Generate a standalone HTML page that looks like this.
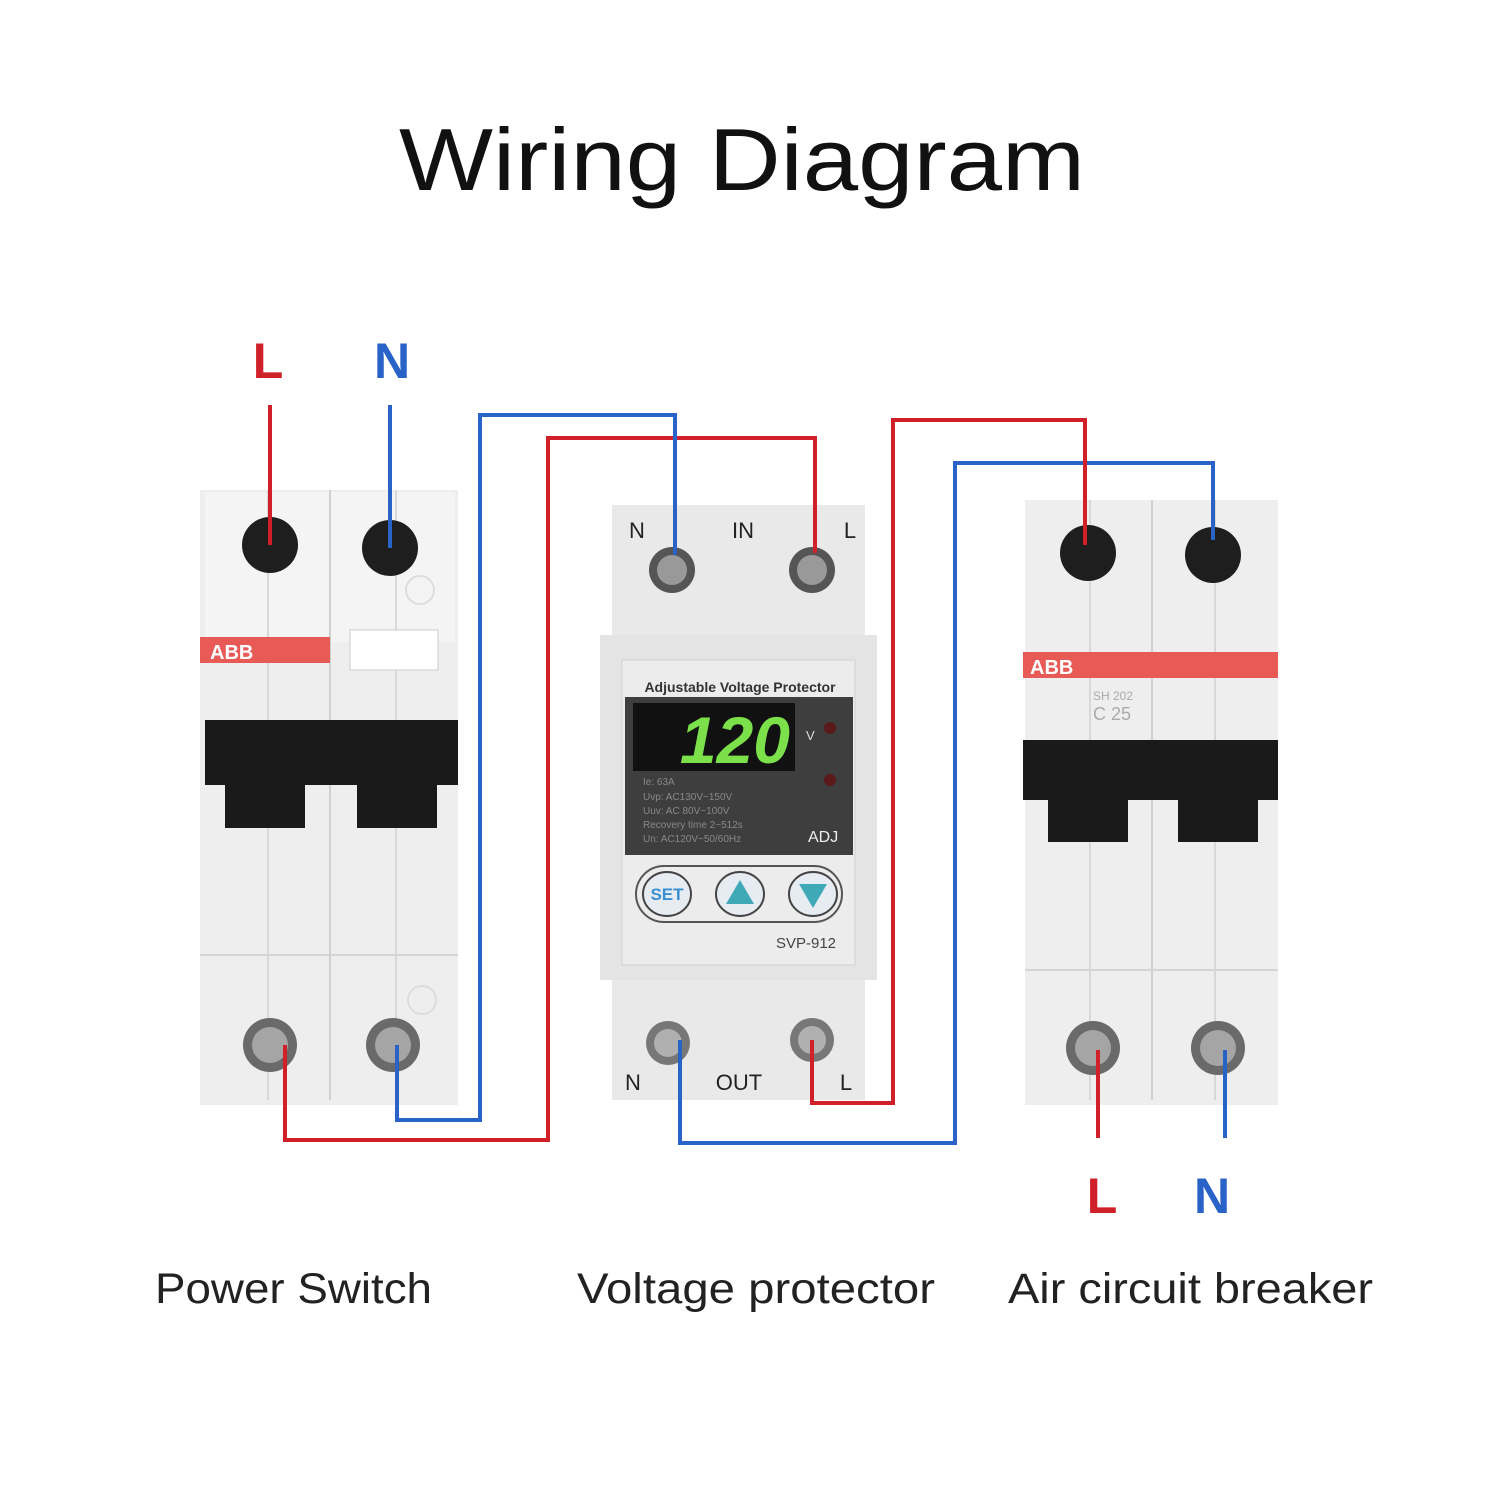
<!DOCTYPE html>
<html><head><meta charset="utf-8"><style>
html,body{margin:0;padding:0;background:#fff}
svg{display:block}
text{font-family:"Liberation Sans",sans-serif}
</style></head><body>
<svg width="1500" height="1500" viewBox="0 0 1500 1500" xmlns="http://www.w3.org/2000/svg">
<rect width="1500" height="1500" fill="#fff"/>
<text x="742" y="190" text-anchor="middle" font-size="88" fill="#111" textLength="686" lengthAdjust="spacingAndGlyphs">Wiring Diagram</text>

<!-- LEFT BREAKER -->
<g>
<rect x="200" y="490" width="258" height="615" fill="#eeeeee"/>
<rect x="205" y="492" width="250" height="150" fill="#f4f4f4"/>
<line x1="268" y1="490" x2="268" y2="1100" stroke="#d8d8d8" stroke-width="2"/>
<line x1="330" y1="490" x2="330" y2="1100" stroke="#d0d0d0" stroke-width="2"/>
<line x1="396" y1="490" x2="396" y2="1100" stroke="#d8d8d8" stroke-width="2"/>
<line x1="200" y1="955" x2="458" y2="955" stroke="#d4d4d4" stroke-width="2"/>
<rect x="200" y="637" width="130" height="26" fill="#e85a55"/>
<text x="210" y="659" font-size="20" font-weight="bold" fill="#fff">ABB</text>
<rect x="350" y="630" width="88" height="40" fill="#fff" stroke="#ccc"/>
<rect x="205" y="720" width="253" height="65" fill="#1a1a1a"/>
<rect x="225" y="784" width="80" height="44" fill="#1a1a1a"/>
<rect x="357" y="784" width="80" height="44" fill="#1a1a1a"/>
<circle cx="270" cy="545" r="28" fill="#1e1e1e"/>
<circle cx="390" cy="548" r="28" fill="#1e1e1e"/>
<circle cx="270" cy="1045" r="27" fill="#6a6a6a"/><circle cx="270" cy="1045" r="18" fill="#a5a5a5"/>
<circle cx="393" cy="1045" r="27" fill="#6a6a6a"/><circle cx="393" cy="1045" r="18" fill="#a5a5a5"/>
<circle cx="420" cy="590" r="14" fill="none" stroke="#ddd" stroke-width="2"/>
<circle cx="422" cy="1000" r="14" fill="none" stroke="#ddd" stroke-width="2"/>
</g>

<!-- DEVICE -->
<g>
<rect x="612" y="505" width="253" height="595" fill="#e9e9e9"/>
<rect x="600" y="635" width="277" height="345" fill="#e4e4e4"/>
<rect x="622" y="660" width="233" height="305" fill="#ececec" stroke="#d0d0d0"/>
<text x="740" y="692" text-anchor="middle" font-size="14" font-weight="bold" fill="#333">Adjustable Voltage Protector</text>
<rect x="625" y="697" width="228" height="158" fill="#3e3e3e"/>
<rect x="633" y="703" width="162" height="68" fill="#111"/>
<text x="790" y="763" text-anchor="end" font-size="66" font-weight="bold" fill="#7be04a" font-style="italic">120</text>
<text x="806" y="740" font-size="13" fill="#ddd">V</text>
<circle cx="830" cy="728" r="6" fill="#5a1a1a"/>
<circle cx="830" cy="780" r="6" fill="#5a1a1a"/>
<text x="643" y="785" font-size="10" fill="#888">Ie:      63A</text>
<text x="643" y="800" font-size="10" fill="#888">Uvp:   AC130V~150V</text>
<text x="643" y="814" font-size="10" fill="#888">Uuv:   AC  80V~100V</text>
<text x="643" y="828" font-size="10" fill="#888">Recovery time 2~512s</text>
<text x="643" y="842" font-size="10" fill="#888">Un: AC120V~50/60Hz</text>
<text x="808" y="842" font-size="16" fill="#eee">ADJ</text>
<rect x="636" y="866" width="206" height="56" rx="28" fill="none" stroke="#555" stroke-width="2"/>
<ellipse cx="667" cy="894" rx="24" ry="22" fill="#e6ecf2" stroke="#444" stroke-width="2"/>
<text x="667" y="900" text-anchor="middle" font-size="17" font-weight="bold" fill="#3a8fd0">SET</text>
<ellipse cx="740" cy="894" rx="24" ry="22" fill="#e6ecf2" stroke="#444" stroke-width="2"/>
<polygon points="740,880 754,904 726,904" fill="#3fa9b8"/>
<ellipse cx="813" cy="894" rx="24" ry="22" fill="#e6ecf2" stroke="#444" stroke-width="2"/>
<polygon points="799,884 827,884 813,908" fill="#3fa9b8"/>
<text x="806" y="948" text-anchor="middle" font-size="15" fill="#444">SVP-912</text>
<text x="637" y="538" text-anchor="middle" font-size="22" fill="#222">N</text>
<text x="743" y="538" text-anchor="middle" font-size="22" fill="#222">IN</text>
<text x="850" y="538" text-anchor="middle" font-size="22" fill="#222">L</text>
<circle cx="672" cy="570" r="23" fill="#555"/><circle cx="672" cy="570" r="15" fill="#999"/>
<circle cx="812" cy="570" r="23" fill="#555"/><circle cx="812" cy="570" r="15" fill="#999"/>
<circle cx="668" cy="1043" r="22" fill="#777"/><circle cx="668" cy="1043" r="14" fill="#b0b0b0"/>
<circle cx="812" cy="1040" r="22" fill="#777"/><circle cx="812" cy="1040" r="14" fill="#b0b0b0"/>
<text x="633" y="1090" text-anchor="middle" font-size="22" fill="#222">N</text>
<text x="739" y="1090" text-anchor="middle" font-size="22" fill="#222">OUT</text>
<text x="846" y="1090" text-anchor="middle" font-size="22" fill="#222">L</text>
</g>

<!-- RIGHT BREAKER -->
<g>
<rect x="1025" y="500" width="253" height="605" fill="#eeeeee"/>
<line x1="1090" y1="500" x2="1090" y2="1100" stroke="#d8d8d8" stroke-width="2"/>
<line x1="1152" y1="500" x2="1152" y2="1100" stroke="#d0d0d0" stroke-width="2"/>
<line x1="1215" y1="500" x2="1215" y2="1100" stroke="#d8d8d8" stroke-width="2"/>
<line x1="1025" y1="970" x2="1278" y2="970" stroke="#d4d4d4" stroke-width="2"/>
<rect x="1023" y="652" width="255" height="26" fill="#e85a55"/>
<text x="1030" y="674" font-size="20" font-weight="bold" fill="#fff">ABB</text>
<text x="1093" y="700" font-size="12" fill="#aaa">SH 202</text>
<text x="1093" y="720" font-size="18" fill="#aaa">C 25</text>
<rect x="1023" y="740" width="255" height="60" fill="#1a1a1a"/>
<rect x="1048" y="798" width="80" height="44" fill="#1a1a1a"/>
<rect x="1178" y="798" width="80" height="44" fill="#1a1a1a"/>
<circle cx="1088" cy="553" r="28" fill="#1e1e1e"/>
<circle cx="1213" cy="555" r="28" fill="#1e1e1e"/>
<circle cx="1093" cy="1048" r="27" fill="#6a6a6a"/><circle cx="1093" cy="1048" r="18" fill="#a5a5a5"/>
<circle cx="1218" cy="1048" r="27" fill="#6a6a6a"/><circle cx="1218" cy="1048" r="18" fill="#a5a5a5"/>
</g>

<!-- WIRES -->
<g fill="none" stroke-width="4" stroke-linejoin="miter">
<polyline points="270,405 270,545" stroke="#d0202a"/>
<polyline points="390,405 390,548" stroke="#2a63c8"/>
<polyline points="285,1045 285,1140 548,1140 548,438 815,438 815,553" stroke="#d0202a"/>
<polyline points="397,1045 397,1120 480,1120 480,415 675,415 675,555" stroke="#2a63c8"/>
<polyline points="680,1040 680,1143 955,1143 955,463 1213,463 1213,540" stroke="#2a63c8"/>
<polyline points="812,1040 812,1103 893,1103 893,420 1085,420 1085,545" stroke="#d0202a"/>
<polyline points="1098,1050 1098,1138" stroke="#d0202a"/>
<polyline points="1225,1050 1225,1138" stroke="#2a63c8"/>
</g>

<text x="268" y="378" text-anchor="middle" font-size="50" font-weight="bold" fill="#d0202a">L</text>
<text x="392" y="378" text-anchor="middle" font-size="50" font-weight="bold" fill="#2a63c8">N</text>
<text x="1102" y="1213" text-anchor="middle" font-size="50" font-weight="bold" fill="#d0202a">L</text>
<text x="1212" y="1213" text-anchor="middle" font-size="50" font-weight="bold" fill="#2a63c8">N</text>

<text x="155" y="1303" font-size="43" fill="#222" textLength="277" lengthAdjust="spacingAndGlyphs">Power Switch</text>
<text x="577" y="1303" font-size="43" fill="#222" textLength="358" lengthAdjust="spacingAndGlyphs">Voltage protector</text>
<text x="1008" y="1303" font-size="43" fill="#222" textLength="365" lengthAdjust="spacingAndGlyphs">Air circuit breaker</text>
</svg>
</body></html>
